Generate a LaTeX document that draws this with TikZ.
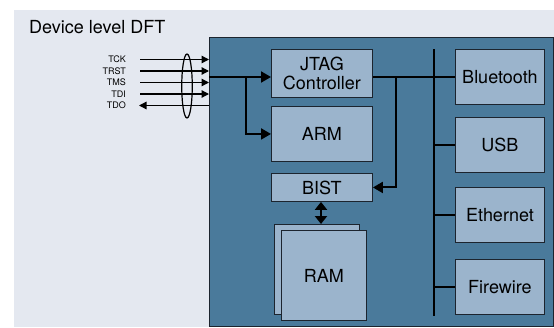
\documentclass[tikz,border=0pt]{standalone}
\usepackage{fontspec}
\setmainfont{TeX Gyre Heros}
\usetikzlibrary{arrows.meta,shapes.geometric}
\definecolor{bgc}{RGB}{228,232,240}
\definecolor{chipc}{RGB}{74,122,155}
\definecolor{blkc}{RGB}{155,180,204}
\definecolor{edgec}{RGB}{28,36,46}
\begin{document}
\begin{tikzpicture}[x=1pt,y=-1pt,
  blkbox/.style={draw=edgec, fill=blkc, line width=0.9pt, font=\fontsize{18}{18.5}\selectfont, align=center, inner sep=0pt, anchor=north west},
  wire/.style={line width=2pt, black},
  sig/.style={line width=1.3pt, black},
  bigarr/.style={-{Triangle[length=10pt,width=11pt]}},
  smallarr/.style={-{Triangle[length=7.5pt,width=7.5pt]}},
  siglabel/.style={anchor=east, font=\fontsize{9}{9}\selectfont, inner sep=0pt}]
\useasboundingbox (0,0) rectangle (554,327);
\fill[bgc] (14,10) rectangle (554,327);
\node[anchor=base west, font=\fontsize{18}{20}\selectfont, inner sep=0pt] (title) at (29,33.3) {Device level DFT};
\node[draw=edgec, fill=chipc, line width=0.9pt, minimum width=344pt, minimum height=289pt, anchor=north west, inner sep=0pt] (chip) at (209,37) {};
% blocks
\node[blkbox, minimum width=101pt, minimum height=48pt] (jtag) at (271,49) {JTAG\\Controller};
\node[blkbox, minimum width=101pt, minimum height=55pt] (arm) at (271,106) {ARM};
\node[blkbox, minimum width=101pt, minimum height=28pt] (bist) at (271,173) {BIST};
\node[blkbox, minimum width=85pt, minimum height=90pt] (ramback) at (274,224) {};
\node[blkbox, minimum width=85pt, minimum height=90pt] (ram) at (281,230) {RAM};
\node[blkbox, minimum width=89pt, minimum height=55pt] (bt) at (455,49) {Bluetooth};
\node[blkbox, minimum width=89pt, minimum height=55pt] (usb) at (455,117) {USB};
\node[blkbox, minimum width=89pt, minimum height=55pt] (eth) at (455,187) {Ethernet};
\node[blkbox, minimum width=89pt, minimum height=55pt] (fw) at (455,259) {Firewire};
% bus
\coordinate (bustop) at (434,49);
\coordinate (busbot) at (434,316);
\draw[wire] (bustop) -- (busbot);
\draw[wire] (bt.west |- 0,77) coordinate (btin) -- (btin -| bustop);
\draw[wire] (usb.west) -- (usb.west -| bustop);
\draw[wire] (eth.west) -- (eth.west -| bustop);
\draw[wire] (fw.west) -- (fw.west -| bustop);
% JTAG to bus and BIST
\coordinate (jout) at (jtag.east |- btin);
\draw[wire] (jout) -- (btin -| bustop);
\coordinate (split) at (396,77);
\draw[wire, bigarr] (split) |- (bist.east);
% inputs
\coordinate (chipin) at (chip.west |- btin);
\draw[wire, bigarr] (chipin) -- (jtag.west |- btin);
\coordinate (split2) at (246,77);
\draw[wire, bigarr] (split2) |- (arm.west);
% BIST-RAM
\draw[wire, {Triangle[length=8pt,width=12pt]}-{Triangle[length=8pt,width=12pt]}] (bist.south -| 321,0) -- (ramback.north -| 321,0);
% signals
\node[siglabel] (tck) at (126,59.5) {TCK};
\node[siglabel] (trst) at (126,71) {TRST};
\node[siglabel] (tms) at (126,82.5) {TMS};
\node[siglabel] (tdi) at (126,94) {TDI};
\node[siglabel] (tdo) at (126,105.5) {TDO};
\draw[sig, smallarr] ([xshift=14pt]tck.east) -- (tck -| chip.west);
\draw[sig, smallarr] ([xshift=14pt]trst.east) -- (trst -| chip.west);
\draw[sig, smallarr] ([xshift=14pt]tms.east) -- (tms -| chip.west);
\draw[sig, smallarr] ([xshift=14pt]tdi.east) -- (tdi -| chip.west);
\draw[sig, smallarr] (tdo -| chip.west) -- ([xshift=13pt]tdo.east);
\node[draw, ellipse, line width=1.2pt, minimum width=10.5pt, minimum height=64pt, inner sep=0pt] (bundle) at (187,86) {};
\end{tikzpicture}
\end{document}
